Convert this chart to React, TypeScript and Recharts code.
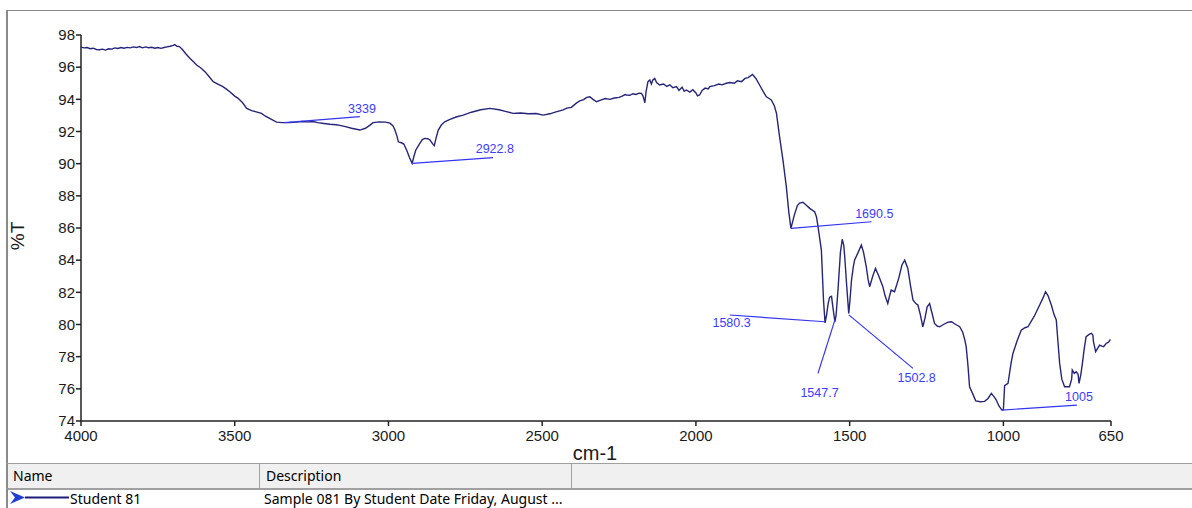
import { ComposedChart, Line, Scatter, XAxis, YAxis } from "recharts";

// spectrum (cm-1 / %T), rows of 10
const wavenumbers = [
  4000, 3990, 3980, 3970, 3960, 3950, 3940, 3930, 3920, 3910,
  3900, 3890, 3880, 3870, 3860, 3850, 3840, 3830, 3820, 3810,
  3800, 3790, 3780, 3770, 3760, 3750, 3740, 3730, 3720, 3710,
  3700, 3695, 3688, 3680, 3670, 3660, 3646, 3635, 3624, 3610,
  3597, 3585, 3570, 3555, 3540, 3528, 3516, 3500, 3489, 3475,
  3461, 3445, 3430, 3413, 3400, 3385, 3364, 3345, 3321, 3300,
  3280, 3260, 3246, 3230, 3210, 3190, 3170, 3158, 3140, 3120,
  3093, 3075, 3060, 3050, 3030, 3010, 2995, 2985, 2979, 2972,
  2968, 2958, 2950, 2940, 2932, 2923, 2918, 2911, 2900, 2890,
  2882, 2872, 2865, 2855, 2851, 2845, 2838, 2828, 2817, 2800,
  2780, 2757, 2730, 2700, 2670, 2640, 2620, 2595, 2570, 2545,
  2520, 2497, 2475, 2455, 2440, 2432, 2420, 2405, 2390, 2378,
  2365, 2355, 2345, 2335, 2323, 2310, 2295, 2280, 2265, 2250,
  2240, 2230, 2226, 2215, 2205, 2195, 2185, 2177, 2172, 2166,
  2162, 2156, 2150, 2145, 2140, 2134, 2128, 2118, 2105, 2095,
  2085, 2075, 2063, 2055, 2045, 2038, 2031, 2020, 2010, 2000,
  1995, 1988, 1980, 1970, 1960, 1955, 1940, 1925, 1915, 1901,
  1890, 1875, 1865, 1852, 1840, 1830, 1816, 1805, 1793, 1780,
  1771, 1762, 1755, 1745, 1738, 1728, 1717, 1706, 1698, 1691,
  1680, 1670, 1663, 1652, 1640, 1630, 1614, 1608, 1603, 1592,
  1585, 1580, 1575, 1570, 1565, 1559, 1554, 1548, 1544, 1538,
  1530, 1524, 1519, 1516, 1510, 1503, 1499, 1494, 1488, 1484,
  1472, 1462, 1455, 1446, 1440, 1435, 1425, 1416, 1405, 1392,
  1385, 1376, 1370, 1365, 1354, 1340, 1330, 1321, 1311, 1302,
  1294, 1285, 1278, 1270, 1262, 1255, 1248, 1240, 1232, 1224,
  1215, 1207, 1195, 1180, 1169, 1155, 1142, 1132, 1125, 1121,
  1115, 1110, 1100, 1090, 1075, 1061, 1050, 1039, 1030, 1023,
  1015, 1005, 1000, 996, 985, 975, 969, 955, 942, 930,
  920, 900, 882, 870, 863, 855, 844, 835, 828, 822,
  817, 810, 801, 785, 778, 776, 769, 763, 757, 754,
  748, 743, 737, 731, 720, 714, 709, 707, 700, 694,
  687, 680, 674, 666, 658, 652,
];

const transmittance = [
  97.25, 97.2, 97.22, 97.15, 97.18, 97.1, 97.08, 97.12, 97.06, 97.14,
  97.12, 97.2, 97.16, 97.22, 97.18, 97.23, 97.2, 97.26, 97.22, 97.28,
  97.2, 97.26, 97.21, 97.24, 97.18, 97.22, 97.17, 97.22, 97.26, 97.3,
  97.35, 97.4, 97.3, 97.28, 97.1, 96.85, 96.55, 96.35, 96.13, 95.95,
  95.72, 95.45, 95.1, 94.95, 94.8, 94.65, 94.47, 94.2, 94.06, 93.8,
  93.44, 93.3, 93.22, 93.13, 92.95, 92.8, 92.58, 92.55, 92.56, 92.58,
  92.62, 92.6, 92.62, 92.55, 92.5, 92.45, 92.42, 92.38, 92.3, 92.2,
  92.09, 92.2, 92.4, 92.55, 92.6, 92.58, 92.52, 92.35, 92.09, 91.7,
  91.36, 91.3, 91.22, 90.8, 90.4, 90.02, 90.4, 90.85, 91.2, 91.5,
  91.57, 91.55, 91.47, 91.2, 91.12, 91.6, 92.09, 92.4, 92.6, 92.75,
  92.9, 93.02, 93.2, 93.35, 93.44, 93.35, 93.25, 93.13, 93.15, 93.1,
  93.12, 93.02, 93.1, 93.22, 93.3, 93.34, 93.45, 93.5, 93.75, 93.9,
  93.98, 94.12, 94.16, 94.0, 93.85, 93.95, 94.05, 94.0, 94.08, 94.12,
  94.2, 94.3, 94.27, 94.25, 94.35, 94.3, 94.38, 94.37, 94.2, 93.79,
  94.5, 95.1, 95.2, 94.95, 95.2, 95.3, 95.05, 94.89, 94.95, 94.8,
  94.9, 94.72, 94.79, 94.55, 94.75, 94.5, 94.58, 94.45, 94.6, 94.4,
  94.22, 94.27, 94.55, 94.7, 94.65, 94.79, 94.85, 94.95, 94.9, 95.0,
  95.05, 95.0, 95.15, 95.1, 95.3, 95.35, 95.55, 95.3, 94.89, 94.45,
  94.16, 94.05, 93.96, 93.6, 93.13, 91.68, 90.23, 88.57, 87.0, 85.98,
  86.8, 87.4, 87.55, 87.6, 87.4, 87.22, 87.01, 86.7, 86.1, 84.63,
  81.5, 80.1, 80.6, 81.3, 81.7, 81.75, 81.0, 80.17, 80.6, 82.14,
  84.5, 85.3, 84.9, 84.21, 82.5, 80.69, 81.5, 82.76, 83.6, 84.0,
  84.5, 84.94, 84.5, 83.59, 82.8, 82.35, 83.0, 83.49, 83.0, 82.35,
  81.8, 81.31, 81.8, 82.14, 82.04, 82.9, 83.7, 84.0, 83.5, 82.4,
  81.52, 81.3, 81.21, 80.6, 79.86, 80.4, 81.1, 81.3, 80.7, 80.07,
  79.9, 79.86, 80.0, 80.15, 80.17, 80.0, 79.86, 79.5, 79.0, 78.62,
  77.4, 76.13, 75.7, 75.25, 75.2, 75.22, 75.4, 75.72, 75.5, 75.3,
  74.95, 74.68, 74.7, 76.2, 76.34, 77.6, 78.2, 79.0, 79.65, 79.8,
  79.86, 80.5, 81.21, 81.7, 82.04, 81.8, 81.21, 80.6, 80.28, 78.8,
  77.58, 76.6, 76.13, 76.13, 76.6, 77.17, 76.96, 77.06, 76.9, 76.34,
  76.9, 77.58, 78.5, 79.24, 79.4, 79.45, 79.35, 78.93, 78.31, 78.5,
  78.72, 78.65, 78.62, 78.82, 78.9, 79.07,
];

// peak picks: leader line from the peak to a tail point, label placed near the tail
const peakLabels = ["3339", "2922.8", "1690.5", "1580.3", "1547.7", "1502.8", "1005"];
const peakWn = [3339, 2922.8, 1690.5, 1580.3, 1547.7, 1502.8, 1005];
const peakT = [92.55, 90.02, 85.98, 80.17, 80.3, 80.6, 74.68];
const tailWn = [3093, 2660, 1429, 1890, 1603, 1294, 761];
const tailT = [92.92, 90.37, 86.39, 80.59, 76.96, 77.27, 74.99];
const labelWn = [3086, 2654, 1420, 1884, 1598, 1282, 754];
const labelT = [93.15, 90.66, 86.62, 79.84, 75.49, 76.42, 75.24];

const xTicks = [4000, 3500, 3000, 2500, 2000, 1500, 1000, 650];
const yTicks = [74, 76, 78, 80, 82, 84, 86, 88, 90, 92, 94, 96, 98];

const spectrum = wavenumbers.map((wn, i) => ({ wn, t: transmittance[i] }));
const leaders = peakWn.map((wn, i) => [
  { wn, t: peakT[i] },
  { wn: tailWn[i], t: tailT[i] },
]);
const labelData = peakLabels.map((text, i) => ({ wn: labelWn[i], t: labelT[i], text }));

const axisFont = "'Liberation Sans', Arial, sans-serif";
const uiFont = "'Noto Sans', 'Open Sans', sans-serif";
const ink = "#1a1a1a";

function PeakText(props: any) {
  const { cx, cy, payload } = props;
  return (
    <text x={cx} y={cy} textAnchor="middle" fill="#3b3bff" fontSize={12.5} fontFamily={axisFont}>
      {payload.text}
    </text>
  );
}

export default function App() {
  return (
    <div style={{ position: "absolute", left: 0, top: 0, width: 1192, height: 508, background: "#fff", overflow: "hidden" }}>
      {/* plot panel frame */}
      <div
        style={{
          position: "absolute",
          left: 6,
          top: 10,
          width: 1200,
          height: 452,
          borderTop: "1px solid #8a8a8a",
          borderLeft: "2px solid #8a8a8a",
        }}
      />
      <div style={{ position: "absolute", left: 0, top: 0 }}>
        <ComposedChart width={1192} height={463} margin={{ top: 35, right: 81, bottom: 12, left: 0 }}>
          <XAxis
            dataKey="wn"
            type="number"
            domain={[650, 4000]}
            reversed
            ticks={xTicks}
            interval={0}
            allowDataOverflow
            height={30}
            tickSize={5}
            tickMargin={4}
            stroke="#222"
            strokeWidth={1.5}
            tick={{ fill: ink, fontSize: 15, fontFamily: axisFont }}
            label={{
              content: () => (
                <text x={595} y={460} textAnchor="middle" fill={ink} fontSize={20} fontFamily={axisFont}>
                  cm-1
                </text>
              ),
            }}
          />
          <YAxis
            type="number"
            domain={[74, 98]}
            ticks={yTicks}
            interval={0}
            allowDataOverflow
            width={81}
            tickSize={5}
            tickMargin={1}
            stroke="#222"
            strokeWidth={1.5}
            tick={{ fill: ink, fontSize: 15, fontFamily: axisFont }}
            label={{
              content: () => (
                <text
                  x={17}
                  y={236}
                  transform="rotate(-90, 17, 236)"
                  textAnchor="middle"
                  dominantBaseline="central"
                  fill={ink}
                  fontSize={19}
                  fontFamily={axisFont}
                >
                  %T
                </text>
              ),
            }}
          />
          <Line
            data={spectrum}
            dataKey="t"
            type="linear"
            stroke="#25257a"
            strokeWidth={1.4}
            dot={false}
            isAnimationActive={false}
          />
          {leaders.map((seg, i) => (
            <Line
              key={peakLabels[i]}
              data={seg}
              dataKey="t"
              type="linear"
              stroke="#3434f2"
              strokeWidth={1.2}
              dot={false}
              isAnimationActive={false}
            />
          ))}
          <Scatter data={labelData} dataKey="t" shape={<PeakText />} isAnimationActive={false} />
        </ComposedChart>
      </div>

      {/* legend table */}
      <div
        style={{
          position: "absolute",
          left: 6,
          top: 463,
          width: 1200,
          height: 24,
          background: "#f0f0f0",
          borderTop: "1px solid #a0a0a0",
          borderBottom: "2px solid #a0a0a0",
          borderLeft: "2px solid #8a8a8a",
          fontFamily: uiFont,
          fontSize: 14,
          color: "#000",
        }}
      >
        <span style={{ position: "absolute", left: 5, top: 2 }}>Name</span>
        <div style={{ position: "absolute", left: 251, top: 0, width: 1, height: 24, background: "#a0a0a0" }} />
        <span style={{ position: "absolute", left: 258, top: 2 }}>Description</span>
        <div style={{ position: "absolute", left: 563, top: 0, width: 1, height: 24, background: "#a0a0a0" }} />
      </div>
      <div style={{ position: "absolute", left: 6, top: 489, width: 2, height: 19, background: "#8a8a8a" }} />
      <svg style={{ position: "absolute", left: 9, top: 490 }} width={62} height={16}>
        <polygon points="1,1 16,7.5 1,14 6,7.5" fill="#1f3fd4" />
        <line x1={16} y1={7.5} x2={60} y2={7.5} stroke="#1c1c78" strokeWidth={2} />
      </svg>
      <span style={{ position: "absolute", left: 70, top: 489, fontFamily: uiFont, fontSize: 14 }}>Student 81</span>
      <span style={{ position: "absolute", left: 264, top: 489, fontFamily: uiFont, fontSize: 14 }}>
        Sample 081 By Student Date Friday, August ...
      </span>
    </div>
  );
}
